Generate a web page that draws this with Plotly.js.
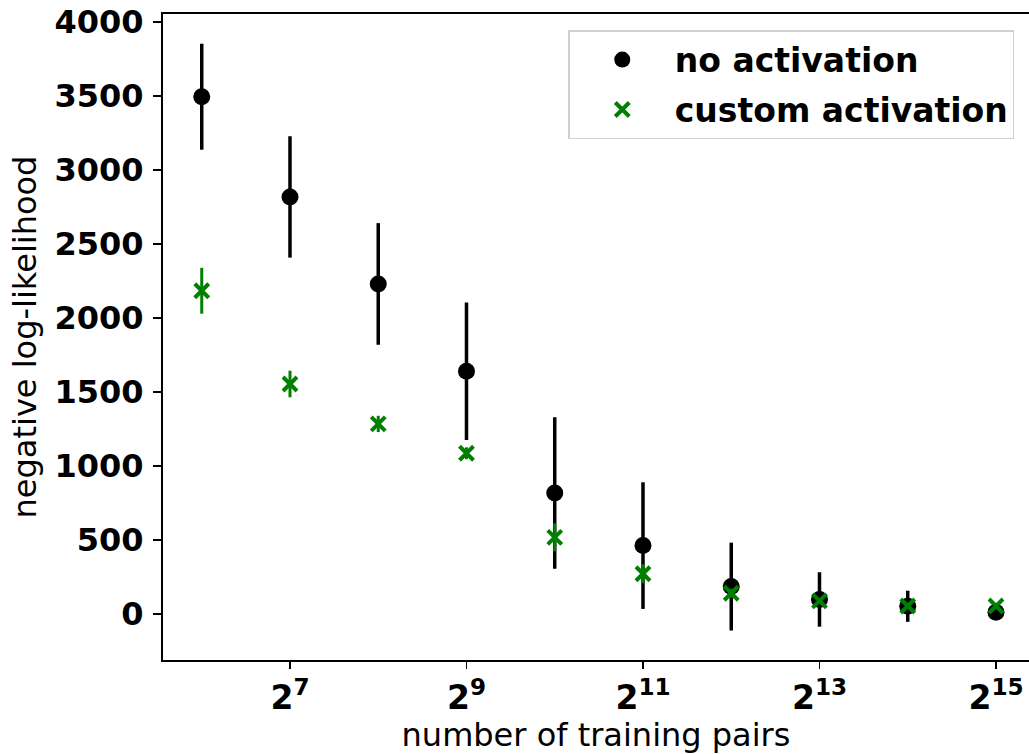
<!DOCTYPE html>
<html>
<head>
<meta charset="utf-8">
<script src="https://cdn.plot.ly/plotly-3.0.1.min.js"></script>
<style>html,body{margin:0;padding:0;background:#fff;}#chart{width:1029px;height:754px;}</style>
</head>
<body>
<div id="chart"></div>
<script>
// data
const trainingPairs = [64, 128, 256, 512, 1024, 2048, 4096, 8192, 16384, 32768];
const noActMean = [3495, 2818, 2230, 1640, 818, 462, 185, 98, 52, 12];
const noActErr  = [358, 410, 411, 464, 512, 428, 297, 184, 105, 18];
const customMean = [2184, 1554, 1284, 1086, 518, 272, 140, 88, 54, 54];
const customErr  = [155, 90, 55, 40, 95, 64, 30, 20, 15, 8];
const xTickVals = [128, 512, 2048, 8192, 32768];
const xTickText = ['<b>2<sup>7</sup></b>', '<b>2<sup>9</sup></b>', '<b>2<sup>11</sup></b>', '<b>2<sup>13</sup></b>', '<b>2<sup>15</sup></b>'];
const yTickVals = [0, 500, 1000, 1500, 2000, 2500, 3000, 3500, 4000];

const FONT = 'DejaVu Sans';

const traces = [
  {
    x: trainingPairs, y: noActMean, name: 'no activation',
    type: 'scatter', mode: 'markers', legendgroup: 'a',
    marker: {symbol: 'circle', size: 17, color: '#000000'},
    error_y: {type: 'data', array: noActErr, visible: true, width: 0, thickness: 3.5, color: '#000000'}
  },
  {
    x: trainingPairs, y: customMean, name: 'custom activation',
    type: 'scatter', mode: 'markers', legendgroup: 'b',
    marker: {symbol: 'x-thin', size: 14, color: '#008000', line: {width: 4, color: '#008000'}},
    error_y: {type: 'data', array: customErr, visible: true, width: 0, thickness: 3, color: '#008000'}
  }
];

const layout = {
  width: 1029, height: 754,
  margin: {l: 163, r: 0, t: 14, b: 94},
  paper_bgcolor: '#ffffff', plot_bgcolor: '#ffffff',
  font: {family: FONT, color: '#000000', size: 32},
  showlegend: true,
  legend: {
    x: 0.983, xanchor: 'right', y: 0.975, yanchor: 'top',
    bgcolor: '#ffffff', bordercolor: '#d0d0d0', borderwidth: 1.5,
    font: {family: FONT, size: 33, weight: 700, color: '#000000'},
    tracegroupgap: 4, traceorder: 'grouped', itemwidth: 95
  },
  xaxis: {
    type: 'log',
    range: [Math.log10(Math.pow(2, 5.561)), Math.log10(Math.pow(2, 15.374))],
    tickvals: xTickVals, ticktext: xTickText,
    tickfont: {family: FONT, size: 33, weight: 700},
    ticks: 'outside', ticklen: 7, tickwidth: 1.5, tickcolor: '#000',
    showline: true, linecolor: '#000', linewidth: 2, mirror: true,
    showgrid: false, zeroline: false,
    title: {text: 'number of training pairs', font: {family: FONT, size: 32}, standoff: 10}
  },
  yaxis: {
    range: [-311, 4054],
    tickvals: yTickVals,
    tickfont: {family: FONT, size: 32, weight: 700},
    ticks: 'outside', ticklen: 8, tickwidth: 1.5, tickcolor: '#000',
    ticklabelstandoff: 3,
    showline: true, linecolor: '#000', linewidth: 2, mirror: false,
    showgrid: false, zeroline: false,
    title: {text: 'negative log-likelihood', font: {family: FONT, size: 32}, standoff: 8}
  }
};

Plotly.newPlot('chart', traces, layout, {displayModeBar: false, staticPlot: true});
</script>
</body>
</html>
